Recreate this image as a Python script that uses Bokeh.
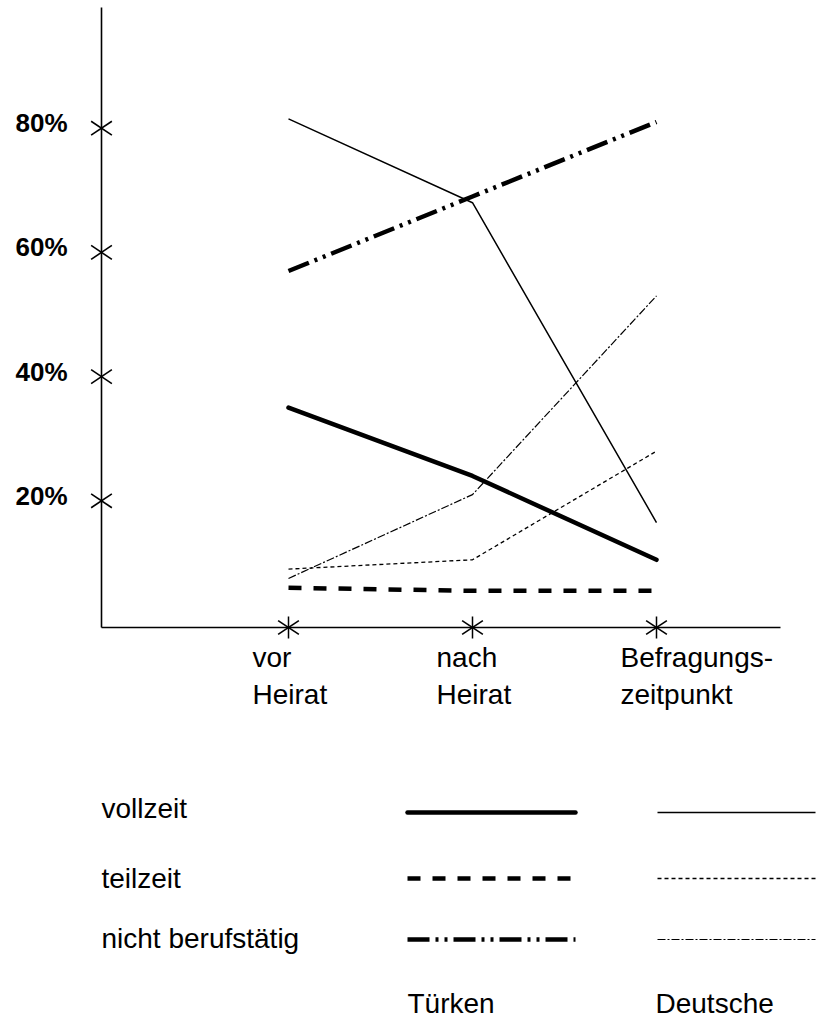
from bokeh.plotting import figure
from bokeh.models import LinearAxis, FixedTicker, Range1d
from bokeh.embed import file_html
from bokeh.resources import INLINE
from bokeh.core.properties import value

# ---------------- data ----------------
categories = ["vor\nHeirat", "nach\nHeirat", "Befragungs-\nzeitpunkt"]
x_pos = [0, 1, 2]
tuerken_vollzeit = [35, 24, 10.5]
tuerken_teilzeit = [6, 5.5, 5.5]
tuerken_nicht = [57, 69, 81]
deutsche_vollzeit = [81.5, 68, 16.5]
deutsche_teilzeit = [9, 10.5, 28]
deutsche_nicht = [7.5, 21, 53]
y_ticks = [20, 40, 60, 80]
y_tick_labels = ["20%", "40%", "60%", "80%"]
row_labels = ["vollzeit", "teilzeit", "nicht berufstätig"]
group_labels = ["Türken", "Deutsche"]

# ---------------- layout ----------------
W, H = 819, 1030
X0, DX = 288.0, 184.0      # canvas px of first category, px per category
Y0, DY = 624.5, 6.21       # canvas px of 0 %, px per percent
AX_X, AX_Y = 101, 627      # axis lines (canvas px)


def dx(px):
    return (px - X0) / DX


def dy(py):
    return (Y0 - py) / DY


FONT = value("Liberation Sans")

p = figure(width=W, height=H,
           x_range=Range1d(dx(0), dx(W)), y_range=Range1d(dy(H), dy(0)),
           output_backend="svg", toolbar_location=None,
           x_axis_type=None, y_axis_type=None, min_border=0,
           outline_line_color=None, background_fill_color="white",
           border_fill_color="white")
p.grid.visible = False

# y axis
yaxis = LinearAxis(fixed_location=dx(AX_X), bounds=(dy(AX_Y), dy(7)),
                   ticker=FixedTicker(ticks=y_ticks),
                   major_label_overrides={t: "" for t in y_ticks},
                   major_label_text_font_size="0px",
                   major_tick_in=0, major_tick_out=0,
                   minor_tick_in=0, minor_tick_out=0,
                   axis_line_width=1.6, axis_line_color="black")
p.add_layout(yaxis, "left")

# x axis
xaxis = LinearAxis(fixed_location=dy(AX_Y), bounds=(dx(AX_X), dx(780)),
                   ticker=FixedTicker(ticks=x_pos),
                   major_label_overrides={i: "" for i in x_pos},
                   major_label_text_font_size="0px",
                   major_tick_in=11, major_tick_out=11,
                   major_tick_line_width=1.5, major_tick_line_color="black",
                   minor_tick_in=0, minor_tick_out=0,
                   axis_line_width=1.6, axis_line_color="black")
p.add_layout(xaxis, "below")

# asterisk tick marks
for ang in (0.59, -0.59):
    p.scatter([dx(AX_X)] * len(y_ticks), y_ticks, marker="dash", size=25,
              angle=ang, line_color="black", line_width=1.6)
    p.scatter(x_pos, [dy(AX_Y)] * len(x_pos), marker="dash", size=25,
              angle=ang, line_color="black", line_width=1.6)

# y tick labels
p.text([dx(AX_X)] * len(y_ticks), y_ticks, text=y_tick_labels,
       x_offset=-34, y_offset=-5, text_align="right", text_baseline="middle",
       text_font=FONT, text_font_size="26px", text_font_style="bold",
       text_color="black")

# series
TW = 4.5
thick = dict(line_color="black", line_width=TW, line_join="round")
thin = dict(line_color="black", line_join="round")
styles = {
    "t_voll": dict(line_cap="round", **thick),
    "t_teil": dict(line_dash="13 12", **thick),
    "t_nicht": dict(line_dash="22 6 3 6 3 6", **thick),
    "d_voll": dict(line_width=1.5, **thin),
    "d_teil": dict(line_width=1.3, line_dash="4 3", **thin),
    "d_nicht": dict(line_width=1.2, line_dash="8 2 2 2", **thin),
}
p.line(x_pos, tuerken_vollzeit, **styles["t_voll"])
p.line(x_pos, tuerken_teilzeit, **styles["t_teil"])
p.line(x_pos, tuerken_nicht, **styles["t_nicht"])
p.line(x_pos, deutsche_vollzeit, **styles["d_voll"])
p.line(x_pos, deutsche_teilzeit, **styles["d_teil"])
p.line(x_pos, deutsche_nicht, **styles["d_nicht"])

# category labels (left aligned, two lines)
line1 = [c.split("\n")[0] for c in categories]
line2 = [c.split("\n")[1] for c in categories]
txt = dict(text_font=FONT, text_font_size="28px", text_color="black",
           text_align="left", text_baseline="middle")
p.text(x_pos, [dy(657)] * 3, text=line1, x_offset=-36, **txt)
p.text(x_pos, [dy(694)] * 3, text=line2, x_offset=-36, **txt)

# legend
row_line_y = [812, 878, 939]
row_text_y = [808, 878, 938]
p.text([dx(AX_X)] * 3, [dy(y) for y in row_text_y], text=row_labels, **txt)
t_keys = ["t_voll", "t_teil", "t_nicht"]
d_keys = ["d_voll", "d_teil", "d_nicht"]
for y, tk, dk in zip(row_line_y, t_keys, d_keys):
    p.line([dx(407), dx(575)], [dy(y), dy(y)], **styles[tk])
    p.line([dx(657), dx(815)], [dy(y), dy(y)], **styles[dk])
p.text([dx(407), dx(655)], [dy(1003)] * 2, text=group_labels, **txt)

open("out.html", "w").write(file_html(p, INLINE))
